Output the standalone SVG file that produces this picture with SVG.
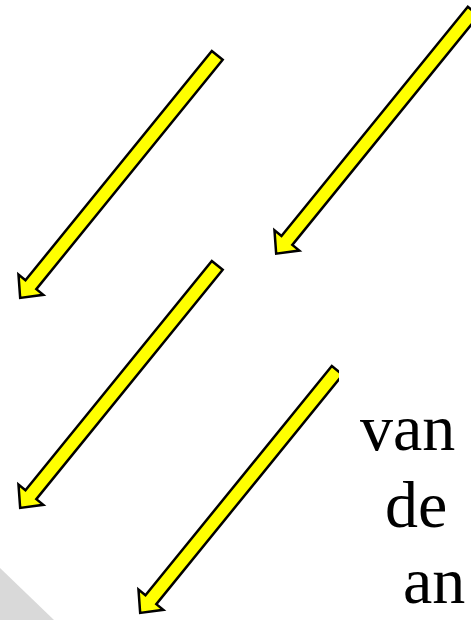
<svg xmlns="http://www.w3.org/2000/svg" width="471" height="620" viewBox="0 0 471 620">
  <defs>
    <path id="arrow" d="M1.5,-7 L297,-7 L297,-16 L314,0 L297,16 L297,7 L1.5,7 Z"/>
    <clipPath id="clip4"><rect x="0" y="0" width="339" height="620"/></clipPath>
  </defs>
  <style>
    .arr { fill: #ffff00; stroke: #000000; stroke-width: 2.5; stroke-linejoin: miter; }
    .txt { font-family: "Liberation Serif", "Times New Roman", serif; font-size: 66px; fill: #000000; }
  </style>
  <rect width="471" height="620" fill="#ffffff"/>
  <polygon id="grey" points="0,568 54,620 0,620" fill="#d9d9d9"/>
  <g id="connectors">
    <g id="arrow1"><use href="#arrow" class="arr" transform="translate(218.2,54.2) rotate(129.1)"/></g>
    <g id="arrow2"><use href="#arrow" class="arr" transform="translate(474.2,10) rotate(129.1)"/></g>
    <g id="arrow3"><use href="#arrow" class="arr" transform="translate(218.2,264.2) rotate(129.1)"/></g>
    <g id="arrow4" clip-path="url(#clip4)"><use href="#arrow" class="arr" transform="translate(338.2,369.2) rotate(129.1)"/></g>
  </g>
  <g id="label">
    <text class="txt" x="360" y="450">van</text>
    <text class="txt" x="385" y="527">de</text>
    <text class="txt" x="403" y="603">an</text>
  </g>
</svg>
